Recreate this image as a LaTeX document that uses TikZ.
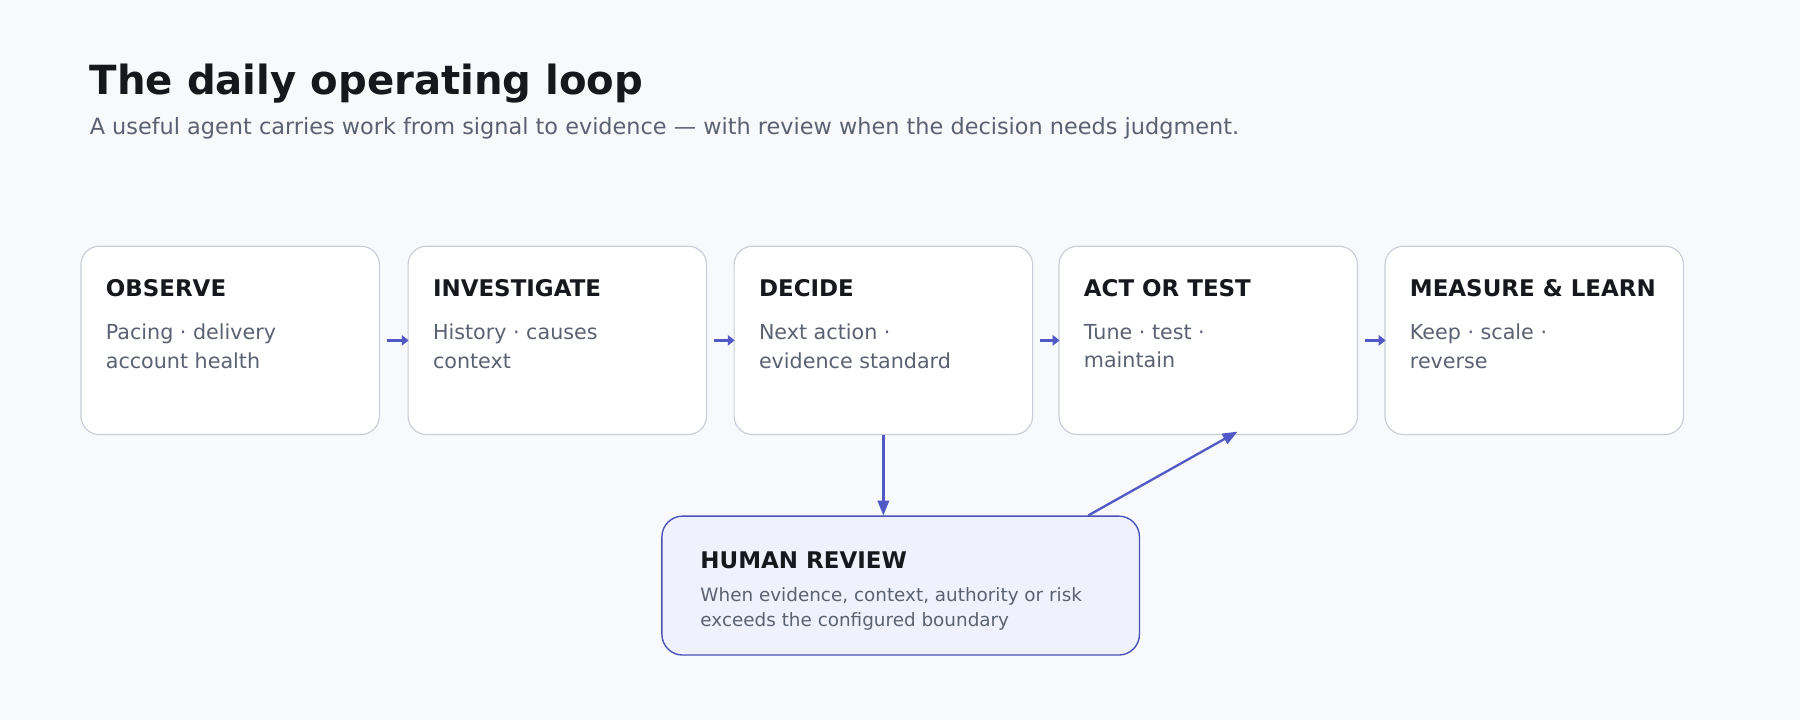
\documentclass[tikz,border=0pt]{standalone}
\usepackage{fontspec}
\setmainfont{DejaVu Sans}
\usetikzlibrary{arrows.meta}
\definecolor{bg}{HTML}{F8F9FB}
\definecolor{bord}{HTML}{C9CDD8}
\definecolor{ink}{HTML}{16181D}
\definecolor{sub}{HTML}{5A6272}
\definecolor{acc}{HTML}{5059C6}
\definecolor{revfill}{HTML}{EFF2FD}
\definecolor{revbord}{HTML}{4A52B5}
\begin{document}
\begin{tikzpicture}[x=1pt,y=-1pt,
  box/.style={draw=bord,line width=1pt,fill=white,rounded corners=16pt,minimum width=260pt,minimum height=164pt,anchor=north west},
  head/.style={anchor=base west,font=\fontsize{20}{24}\selectfont\bfseries,text=ink,inner sep=0},
  body/.style={anchor=north west,font=\fontsize{18}{25}\selectfont,text=sub,inner sep=0,align=left},
  flow/.style={draw=acc,line width=2.5pt,-{Triangle[length=7pt,width=9pt]}}]
\useasboundingbox[fill=bg] (0,0) rectangle (1568,627);
\node[anchor=base west,inner sep=0,font=\fontsize{35}{40}\selectfont\bfseries,text=ink] (title) at (78,82) {The daily operating loop};
\node[anchor=base west,inner sep=0,font=\fontsize{19.5}{24}\selectfont,text=sub] (subt) at (78,117) {A useful agent carries work from signal to evidence — with review when the decision needs judgment.};
\foreach \i/\x/\h/\a/\b in {1/70/OBSERVE/Pacing · delivery/account health,
  2/355/INVESTIGATE/History · causes/context,
  3/639/DECIDE/Next action ·/evidence standard,
  4/922/ACT OR TEST/Tune · test ·/maintain,
  5/1206/MEASURE \& LEARN/Keep · scale ·/reverse}{
  \node[box] (b\i) at (\x,214) {};
  \node[head] (h\i) at (\x+22,258) {\h};
  \node[body] (t\i) at (\x+22,282) {\a\\\b};
}
\foreach \i/\j in {1/2,2/3,3/4,4/5}{
  \draw[flow,line width=3pt,-{Triangle[length=6pt,width=9pt]}] ([xshift=6pt,yshift=0pt]b\i.east) ++(0,0) -- ([xshift=1pt]b\j.west);
}
\node[draw=revbord,line width=1.2pt,fill=revfill,rounded corners=18pt,minimum width=416pt,minimum height=121pt,anchor=north west] (rev) at (576,449) {};
\node[head] (rh) at (610,495) {HUMAN REVIEW};
\node[anchor=north west,inner sep=0,font=\fontsize{16}{21}\selectfont,text=sub,align=left] (rt) at (610,512) {When evidence, context, authority or risk\\exceeds the configured boundary};
\coordinate (rs) at (948,449);
\coordinate (ae) at (1078,376);
\draw[draw=acc,line width=2pt,-{Triangle[length=13pt,width=10pt]}] (b3.south) -- (rev.north -| b3.south);
\draw[draw=acc,line width=2pt,-{Triangle[length=13pt,width=10pt]}] (rs) -- (ae);
\end{tikzpicture}
\end{document}
